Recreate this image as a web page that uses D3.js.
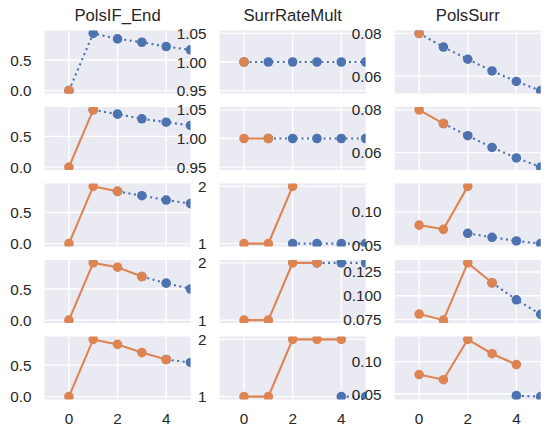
<!DOCTYPE html>
<html>
<head>
<meta charset="utf-8">
<script src="https://cdn.jsdelivr.net/npm/d3@7"></script>
<style>
  html, body { margin: 0; padding: 0; background: #ffffff; }
  svg { display: block; }
  text { font-family: "Liberation Sans", Arial, sans-serif; fill: #262626; }
</style>
</head>
<body>
<svg id="chart" width="550" height="437"></svg>
<script>
// ---------------- data ----------------
const columnTitles = ["PolsIF_End", "SurrRateMult", "PolsSurr"];
const xTickValues = [0, 2, 4];

// PolsIF_End : realised (orange, x = 0..r) and projected (blue, x = r..5) per row
const polsIFActual = [
  [0],
  [0, 0.93],
  [0, 0.92, 0.84],
  [0, 0.92, 0.85, 0.70],
  [0, 0.91, 0.83, 0.70, 0.59]
];
const polsIFProj = [
  [0, 0.935, 0.845, 0.79, 0.72, 0.665],
  [0.93, 0.86, 0.785, 0.73, 0.677],
  [0.84, 0.77, 0.70, 0.643],
  [0.70, 0.594, 0.50],
  [0.59, 0.543]
];

// SurrRateMult
const surrMultActual = [
  [1],
  [1, 1],
  [1, 1, 2],
  [1, 1, 2, 2],
  [1, 1, 2, 2, 2]
];
const surrMultProj = [
  [1, 1, 1, 1, 1, 1],
  [1, 1, 1, 1, 1],
  [1, 1, 1, 1],
  [2, 2, 2],
  [1, 1]
];

// PolsSurr
const polsSurrActual = [
  [0.08],
  [0.08, 0.0736],
  [0.0804, 0.0741, 0.1378],
  [0.0807, 0.0743, 0.1346, 0.1136],
  [0.080, 0.0721, 0.1342, 0.1121, 0.0953]
];
const polsSurrProj = [
  [0.08, 0.0736, 0.0679, 0.0624, 0.0575, 0.0532],
  [0.0736, 0.0679, 0.0624, 0.0575, 0.0532],
  [0.0682, 0.0623, 0.0569, 0.0529],
  [0.1136, 0.0957, 0.0804],
  [0.0475, 0.046]
];

// y tick values / labels per row, per column
const yTickValues = [
  [[0, 0.5], [0.95, 1.00, 1.05], [0.06, 0.08]],
  [[0, 0.5], [0.95, 1.00, 1.05], [0.06, 0.08]],
  [[0, 0.5], [1, 2], [0.05, 0.10]],
  [[0, 0.5], [1, 2], [0.075, 0.100, 0.125]],
  [[0, 0.5], [1, 2], [0.05, 0.10]]
];
const yTickLabels = [
  [["0.0", "0.5"], ["0.95", "1.00", "1.05"], ["0.06", "0.08"]],
  [["0.0", "0.5"], ["0.95", "1.00", "1.05"], ["0.06", "0.08"]],
  [["0.0", "0.5"], ["1", "2"], ["0.05", "0.10"]],
  [["0.0", "0.5"], ["1", "2"], ["0.075", "0.100", "0.125"]],
  [["0.0", "0.5"], ["1", "2"], ["0.05", "0.10"]]
];

const actualByCol = [polsIFActual, surrMultActual, polsSurrActual];
const projByCol = [polsIFProj, surrMultProj, polsSurrProj];

// ---------------- layout ----------------
const colLeft = [44.6, 219.7, 394.8];
const panelW = 145.9;
const rowTop0 = 30.5, rowStep = 76.5, panelH = 63;
const blue = "#4C72B0", orange = "#DD8452";
const tickFont = 15.3, titleFont = 16.7;
const labelPad = 13.2;

const svg = d3.select("#chart");
const defs = svg.append("defs");

const x = d3.scaleLinear().domain([-1, 5]);

for (let r = 0; r < 5; r++) {
  for (let c = 0; c < 3; c++) {
    const left = colLeft[c], top = rowTop0 + r * rowStep;
    const act = actualByCol[c][r];
    const proj = projByCol[c][r];
    const actPts = act.map((v, i) => [i, v]);
    const projStart = act.length - 1;
    const projPts = proj.map((v, i) => [projStart + i, v]);

    // y domain: data extent, nonsingular expand, 5% margin (matplotlib-like)
    let [lo, hi] = d3.extent(act.concat(proj));
    if (hi - lo < 1e-12) { lo -= 0.05 * Math.abs(lo); hi += 0.05 * Math.abs(hi); }
    const m = (hi - lo) * 0.05;
    const y = d3.scaleLinear().domain([lo - m, hi + m]).range([top + panelH, top]);
    const xs = x.copy().range([left, left + panelW]);

    const g = svg.append("g");
    const clipId = `clip-${r}-${c}`;
    defs.append("clipPath").attr("id", clipId)
      .append("rect").attr("x", left).attr("y", top).attr("width", panelW).attr("height", panelH);

    g.append("rect").attr("x", left).attr("y", top).attr("width", panelW).attr("height", panelH)
      .attr("fill", "#EAEAF2");

    // grid
    const grid = g.append("g").attr("clip-path", `url(#${clipId})`);
    grid.selectAll("line.vx").data(xTickValues).enter().append("line")
      .attr("x1", d => xs(d)).attr("x2", d => xs(d)).attr("y1", top).attr("y2", top + panelH)
      .attr("stroke", "#ffffff").attr("stroke-width", 1.39);
    grid.selectAll("line.hy").data(yTickValues[r][c]).enter().append("line")
      .attr("x1", left).attr("x2", left + panelW).attr("y1", d => y(d)).attr("y2", d => y(d))
      .attr("stroke", "#ffffff").attr("stroke-width", 1.39);

    // data
    const plot = g.append("g").attr("clip-path", `url(#${clipId})`);
    const line = d3.line().x(d => xs(d[0])).y(d => y(d[1]));

    plot.append("path").datum(projPts).attr("d", line)
      .attr("fill", "none").attr("stroke", blue).attr("stroke-width", 2.08)
      .attr("stroke-dasharray", "2.08,3.44");
    plot.selectAll("circle.p").data(projPts).enter().append("circle")
      .attr("cx", d => xs(d[0])).attr("cy", d => y(d[1])).attr("r", 4.8).attr("fill", blue);

    if (actPts.length > 1) {
      plot.append("path").datum(actPts).attr("d", line)
        .attr("fill", "none").attr("stroke", orange).attr("stroke-width", 2.08);
    }
    plot.selectAll("circle.a").data(actPts).enter().append("circle")
      .attr("cx", d => xs(d[0])).attr("cy", d => y(d[1])).attr("r", 4.8).attr("fill", orange);

    // y tick labels
    const yt = yTickValues[r][c];
    g.selectAll("text.yt").data(yt).enter().append("text")
      .attr("x", left - labelPad).attr("y", d => y(d) + 0.36 * tickFont)
      .attr("text-anchor", "end").attr("font-size", tickFont)
      .text((d, i) => yTickLabels[r][c][i]);

    // x tick labels on bottom row
    if (r === 4) {
      g.selectAll("text.xt").data(xTickValues).enter().append("text")
        .attr("x", d => xs(d)).attr("y", top + panelH + labelPad + 0.72 * tickFont)
        .attr("text-anchor", "middle").attr("font-size", tickFont)
        .text(d => d);
    }
    // titles on top row
    if (r === 0) {
      g.append("text").attr("x", left + panelW / 2).attr("y", top - 10)
        .attr("text-anchor", "middle").attr("font-size", titleFont)
        .text(columnTitles[c]);
    }
  }
}
</script>
</body>
</html>
